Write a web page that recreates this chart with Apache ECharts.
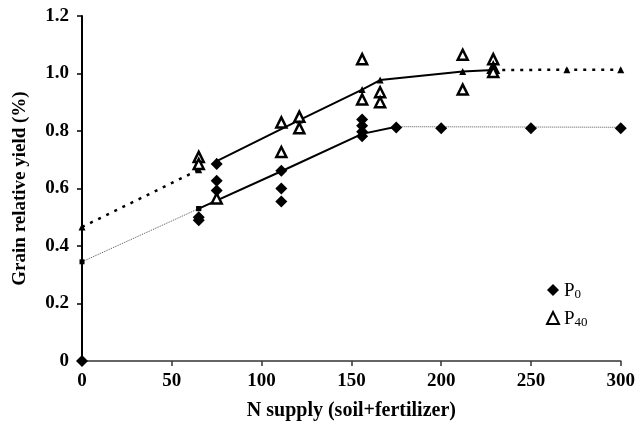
<!DOCTYPE html>
<html>
<head>
<meta charset="utf-8">
<script src="https://cdn.jsdelivr.net/npm/echarts@6/dist/echarts.min.js"></script>
<style>html,body{margin:0;padding:0;background:#fff}#c{width:638px;height:426px}</style>
</head>
<body>
<div id="c"></div>
<script>
// ---- data ----
const xTicks = [0, 50, 100, 150, 200, 250, 300];
const yTicks = [0, 0.2, 0.4, 0.6, 0.8, 1.0, 1.2];

// observed P0 (filled diamonds): [N supply, relative yield]
const p0Obs = [[0,0],[65,0.50],[65,0.49],[75,0.685],[75,0.627],[75,0.593],
  [111,0.662],[111,0.60],[111,0.555],[156,0.84],[156,0.818],[156,0.797],[156,0.782],
  [175,0.812],[200,0.81],[250,0.81],[300,0.81]];
// observed P40 (open triangles)
const p40Obs = [[65,0.71],[65,0.685],[75,0.565],[111,0.83],[111,0.727],[121,0.85],[121,0.81],
  [156,1.05],[156,0.91],[166,0.935],[166,0.90],[212,1.065],[212,0.944],
  [229,1.05],[229,1.02],[229,1.005]];

// fitted lines
const p0FitSolid = [[65,0.53],[111,0.66],[156,0.79],[175,0.815]];
const p0FitDotLeft = [[0,0.345],[65,0.53]];
const p0FitDotRight = [[175,0.815],[300,0.813]];
const p40FitSolid = [[75,0.695],[121,0.838],[156,0.944],[166,0.977],[212,1.007],[229,1.012]];
const p40FitDotLeft = [[0,0.466],[65,0.665]];
const p40FitDotRight = [[229,1.012],[270,1.013],[300,1.013]];

const FONT = '"Liberation Serif", "Times New Roman", serif';

const chart = echarts.init(document.getElementById('c'), null, {renderer:'canvas'});
chart.setOption({
  backgroundColor:'#fff',
  animation:false,
  grid:{left:82, right:16, top:16, bottom:63},
  xAxis:{
    type:'value', min:0, max:300, interval:50,
    name:'N supply (soil+fertilizer)', nameLocation:'middle', nameGap:40,
    nameTextStyle:{fontFamily:FONT, fontWeight:'bold', fontSize:20, color:'#000'},
    axisLine:{show:true, onZero:false, lineStyle:{color:'#333', width:1.5}},
    axisTick:{show:true, length:5, lineStyle:{color:'#333', width:1.5}},
    axisLabel:{fontFamily:FONT, fontWeight:'bold', fontSize:19, color:'#000', margin:11,
      formatter:v=>xTicks.includes(v)?String(v):''},
    splitLine:{show:false}
  },
  yAxis:{
    type:'value', min:0, max:1.2, interval:0.2,
    name:'Grain relative yield (%)', nameLocation:'middle', nameGap:52, nameRotate:90,
    nameTextStyle:{fontFamily:FONT, fontWeight:'bold', fontSize:19, color:'#000'},
    axisLine:{show:true, onZero:false, lineStyle:{color:'#000', width:2}},
    axisTick:{show:true, length:5, lineStyle:{color:'#000', width:1.5}},
    axisLabel:{fontFamily:FONT, fontWeight:'bold', fontSize:19, color:'#000', margin:13,
      formatter:v=>{const t=yTicks.find(x=>Math.abs(x-v)<1e-6); return t===undefined?'':(t===0?'0':t.toFixed(1));}},
    splitLine:{show:false}
  },
  legend:{
    orient:'vertical', left:541, top:276, itemGap:8, itemWidth:12, itemHeight:12,
    data:[{name:'P0', icon:'diamond'},{name:'P40', icon:'triangle'}],
    formatter:n=>n==='P0'?'{a|P}{b|0}':'{a|P}{b|40}',
    textStyle:{color:'#000', rich:{
      a:{fontFamily:FONT, fontSize:19, color:'#000', verticalAlign:'bottom', lineHeight:22},
      b:{fontFamily:FONT, fontSize:13, color:'#000', verticalAlign:'bottom', lineHeight:14, padding:[7,0,0,0]}
    }}
  },
  series:[
    {name:'p0dotL', type:'line', data:p0FitDotLeft, symbol:'rect', symbolSize:5, itemStyle:{color:'#000'},
      lineStyle:{color:'#555', width:1, type:[1,1]}, z:2},
    {name:'p0dotR', type:'line', data:p0FitDotRight, symbol:'none',
      lineStyle:{color:'#555', width:1, type:[1,1]}, z:2},
    {name:'p0fit', type:'line', data:p0FitSolid, symbol:'rect', symbolSize:5, itemStyle:{color:'#000'},
      lineStyle:{color:'#000', width:2}, z:3},
    {name:'p40dotL', type:'line', data:p40FitDotLeft, symbol:'triangle', symbolSize:7, itemStyle:{color:'#000'},
      lineStyle:{color:'#000', width:2.5, type:[3,6]}, z:2},
    {name:'p40dotR', type:'line', data:p40FitDotRight, symbol:'triangle', symbolSize:7, itemStyle:{color:'#000'},
      lineStyle:{color:'#000', width:2.5, type:[3,6]}, z:2},
    {name:'p40fit', type:'line', data:p40FitSolid, symbol:'triangle', symbolSize:7, itemStyle:{color:'#000'},
      lineStyle:{color:'#000', width:2}, z:3},
    {name:'P0', type:'scatter', data:p0Obs, symbol:'diamond', symbolSize:12,
      itemStyle:{color:'#000', opacity:1}, z:5},
    {name:'P40', type:'scatter', data:p40Obs, symbol:'triangle', symbolSize:10,
      itemStyle:{color:'#fff', borderColor:'#000', borderWidth:2.5, opacity:1}, z:5}
  ]
});
</script>
</body>
</html>
